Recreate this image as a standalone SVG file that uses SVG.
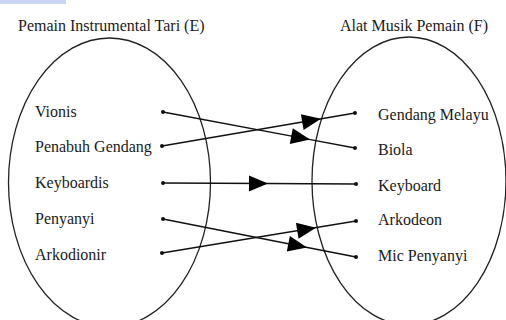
<svg xmlns="http://www.w3.org/2000/svg" width="506" height="320" viewBox="0 0 506 320">
<style>
text{font-family:"Liberation Serif","Times New Roman",serif;font-size:16px;fill:#1a1a1a}
.ell{fill:none;stroke:#222;stroke-width:1.3}
.ln{fill:none;stroke:#111;stroke-width:1.4;marker-mid:url(#tri)}
.dot{fill:#111}
</style>
<defs>
<marker id="tri" markerUnits="userSpaceOnUse" markerWidth="19" markerHeight="16" refX="18" refY="8" orient="auto" overflow="visible">
<path d="M0,0 L19,8 L0,16 z" fill="#000"/>
</marker>
</defs>
<rect x="0" y="0" width="66" height="4" fill="#c8d4f4"/>
<g id="setE">
<ellipse class="ell" cx="109.5" cy="182.5" rx="101" ry="144.5"/>
<text x="18" y="31">Pemain Instrumental Tari (E)</text>
</g>
<g id="setF">
<ellipse class="ell" cx="409" cy="181" rx="97" ry="144"/>
<text x="340" y="31">Alat Musik Pemain (F)</text>
</g>
<g id="e1"><text x="35" y="117">Vionis</text><circle class="dot" cx="163" cy="112" r="2"/></g>
<g id="e2"><text x="35" y="152">Penabuh Gendang</text><circle class="dot" cx="162" cy="146" r="2"/></g>
<g id="e3"><text x="35" y="188">Keyboardis</text><circle class="dot" cx="163" cy="183" r="2"/></g>
<g id="e4"><text x="35" y="224">Penyanyi</text><circle class="dot" cx="163" cy="219" r="2"/></g>
<g id="e5"><text x="35" y="260">Arkodionir</text><circle class="dot" cx="162" cy="253" r="2"/></g>
<g id="f1"><text x="378" y="120">Gendang Melayu</text><circle class="dot" cx="355" cy="113" r="2"/></g>
<g id="f2"><text x="378" y="155">Biola</text><circle class="dot" cx="355" cy="148" r="2"/></g>
<g id="f3"><text x="378" y="191">Keyboard</text><circle class="dot" cx="356" cy="184" r="2"/></g>
<g id="f4"><text x="378" y="225">Arkodeon</text><circle class="dot" cx="356" cy="221" r="2"/></g>
<g id="f5"><text x="378" y="261">Mic Penyanyi</text><circle class="dot" cx="356" cy="257" r="2"/></g>
<g id="connectors">
<polyline class="ln" points="163,112 309,139.4 355,148"/>
<polyline class="ln" points="162,146 320,119 355,113"/>
<polyline class="ln" points="163,183 267,183.5 356,184"/>
<polyline class="ln" points="163,219 306,247.2 356,257"/>
<polyline class="ln" points="162,253 315,227.8 356,221"/>
</g>
</svg>
